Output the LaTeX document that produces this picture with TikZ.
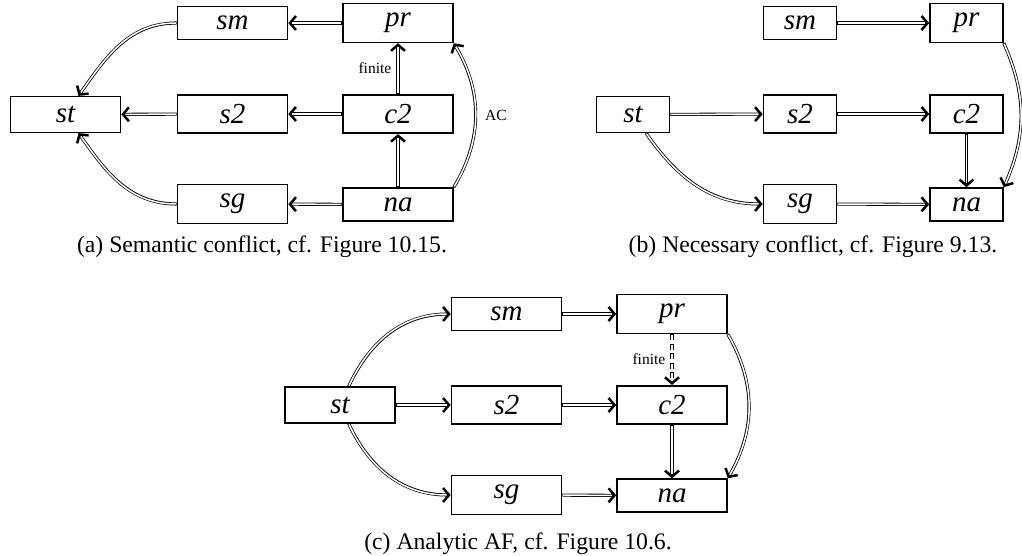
\documentclass[tikz,border=0pt]{standalone}
\usepackage{fontspec}
\setmainfont{Liberation Serif}
\usetikzlibrary{arrows.meta}
\tikzset{
  box/.style={draw, line width=1.6pt, minimum width=#1, inner xsep=0pt, inner ysep=9.5pt,
    font=\fontsize{29}{34}\selectfont\itshape},
  box/.default=110pt,
  imp/.style={draw=white, line width=1.5pt, shorten >=4pt, shorten <=0.8pt,
    preaction={draw=black, line width=3.1pt, shorten >=0pt, shorten <=0pt,
      -{Straight Barb[length=6pt,width=14pt,line width=2.5pt]}}},
  dimp/.style={draw=white, line width=1.5pt, shorten >=4pt, shorten <=0.8pt, dash pattern=on 6pt off 3.5pt,
    preaction={draw=black, line width=3.1pt, shorten >=0pt, shorten <=0pt, dash pattern=on 6pt off 3.5pt,
      -{Straight Barb[length=6pt,width=14pt,line width=2.5pt]}}},
  lbl/.style={font=\fontsize{15.5}{18}\selectfont},
  captext/.style={anchor=base, font=\fontsize{23.7}{28}\selectfont}
}
\begin{document}
\begin{tikzpicture}[x=1pt,y=-1pt]
\useasboundingbox (0,0) rectangle (1022,556);
% ---------- (a)
\node[box] (asm) at (232.5,23) {sm};
\node[box] (apr) at (398,23) {pr};
\node[box] (ast) at (65.5,114.5) {st};
\node[box] (as2) at (232.5,114) {s2};
\node[box] (ac2) at (398,114) {c2};
\node[box] (asg) at (232.5,204) {sg};
\node[box] (ana) at (398,204.5) {na};
\draw[imp] (apr) -- (asm);
\draw[imp] (ac2) -- (as2);
\draw[imp] (as2) -- (ast);
\draw[imp] (ana) -- (asg);
\draw[imp] (ana) -- (ac2);
\draw[imp] (ac2) -- node[lbl, left, inner sep=6pt] {finite} (apr);
\draw[imp] (asm) to[out=180,in=55] (ast);
\draw[imp] (asg) to[out=180,in=-55] (ast);
\draw[imp] (ana.north east) to[bend right=31] node[lbl, right, inner sep=9pt] {AC} (apr.south east);
\node[captext] (capa) at (262,252) {(a) Semantic conflict, cf. Figure 10.15.};
% ---------- (b)
\node[box=73pt] (bsm) at (800,23) {sm};
\node[box=73pt] (bpr) at (966.5,23) {pr};
\node[box=73pt] (bst) at (633,114.5) {st};
\node[box=73pt] (bs2) at (800,114) {s2};
\node[box=73pt] (bc2) at (966.5,114) {c2};
\node[box=73pt] (bsg) at (800,204) {sg};
\node[box=73pt] (bna) at (966.5,204.5) {na};
\draw[imp] (bsm) -- (bpr);
\draw[imp] (bst) -- (bs2);
\draw[imp] (bs2) -- (bc2);
\draw[imp] (bsg) -- (bna);
\draw[imp] (bc2) -- (bna);
\draw[imp] (bst) to[out=-55,in=180] (bsg);
\draw[imp] (bpr.south east) to[bend left=24] (bna.north east);
\node[captext] (capb) at (813,252) {(b) Necessary conflict, cf. Figure 9.13.};
% ---------- (c)
\node[box] (csm) at (506.5,314) {sm};
\node[box] (cpr) at (672,314) {pr};
\node[box] (cst) at (340,405) {st};
\node[box] (cs2) at (506.5,405) {s2};
\node[box] (cc2) at (672,405) {c2};
\node[box] (csg) at (506.5,495) {sg};
\node[box] (cna) at (672,495.5) {na};
\draw[imp] (csm) -- (cpr);
\draw[imp] (cst) -- (cs2);
\draw[imp] (cs2) -- (cc2);
\draw[imp] (csg) -- (cna);
\draw[imp] (cc2) -- (cna);
\draw[dimp] (cpr) -- node[lbl, left, inner sep=6pt] {finite} (cc2);
\draw[imp] (cst) to[out=65,in=180] (csm);
\draw[imp] (cst) to[out=-65,in=180] (csg);
\draw[imp] (cpr.south east) to[bend left=30] (cna.north east);
\node[captext] (capc) at (518,549) {(c) Analytic AF, cf. Figure 10.6.};
\end{tikzpicture}
\end{document}
